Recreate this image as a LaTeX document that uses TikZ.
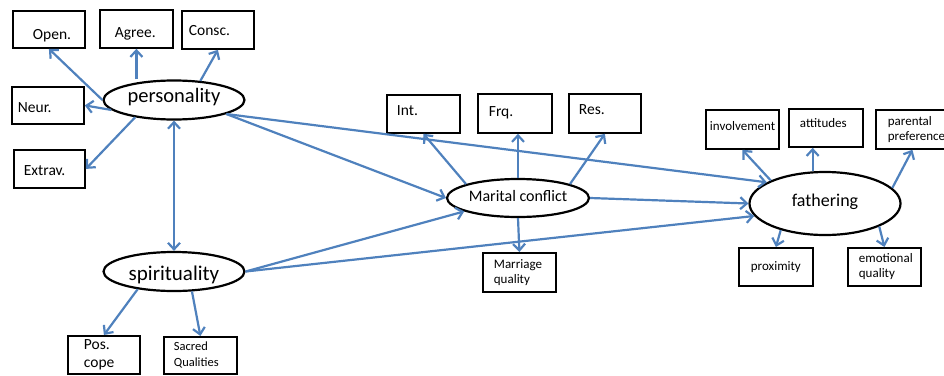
\documentclass[tikz,border=0pt]{standalone}
\usepackage{fontspec}
\setmainfont{Carlito}
\usetikzlibrary{arrows.meta,shapes.geometric}
\definecolor{arrblue}{HTML}{4F81BD}
\hyphenpenalty=10000
\exhyphenpenalty=10000
\begin{document}
\begin{tikzpicture}[x=1pt,y=-1pt,
  box/.style={draw=black, line width=1.8pt, anchor=north west, align=left, inner ysep=0pt},
  bigt/.style={font=\fontsize{15.5}{18.5}\selectfont},
  smallt/.style={font=\fontsize{13}{15}\selectfont},
  tinyt/.style={font=\fontsize{12.5}{16}\selectfont},
  latent/.style={draw=black, fill=white, ellipse, line width=2.2pt, inner sep=0pt, text depth=0pt},
  arr/.style={draw=arrblue, line width=2.2pt, -{Straight Barb[length=6.5pt,width=12pt]}},
  darr/.style={arr, {Straight Barb[length=6.5pt,width=12pt]}-{Straight Barb[length=6.5pt,width=12pt]}}
]
\useasboundingbox (0,0) rectangle (944,375);

% latent variables
\node[latent, minimum width=141, minimum height=39, text height=5.4pt, font=\fontsize{20.5}{24}\selectfont] (pers) at (174,100) {personality};
\node[latent, minimum width=141, minimum height=39, text height=17pt, font=\fontsize{21}{24}\selectfont] (spir) at (174,271.5) {spirituality};
\node[latent, minimum width=142, minimum height=38, text height=7.4pt, font=\fontsize{16}{18}\selectfont] (mc) at (518,198) {Marital conflict};
\node[latent, minimum width=151, minimum height=63, text height=6.4pt, font=\fontsize{18}{20}\selectfont] (fath) at (825,203.5) {fathering};

% personality indicators
\node[box, bigt, text width=32pt, inner xsep=20pt, minimum height=37, text height=20pt, text depth=0pt] (open) at (12,10) {Open.};
\node[box, bigt, text width=43pt, inner xsep=15pt, minimum height=38, text height=17pt, text depth=0pt] (agree) at (99,9) {Agree.};
\node[box, bigt, text width=58pt, inner xsep=7pt, minimum height=38, text height=12pt, text depth=0pt] (consc) at (181,10) {Consc.};
\node[box, bigt, text width=60pt, inner xsep=6pt, minimum height=37, text height=14pt, text depth=0pt] (neur) at (11,86) {Neur.};
\node[box, bigt, text width=51pt, inner xsep=10pt, minimum height=38, text height=14pt, text depth=0pt] (extrav) at (13,149) {Extrav.};

% spirituality indicators
\node[box, bigt, text width=40pt, inner xsep=16pt, minimum height=38] (pos) at (67,335) {Pos.\\cope};
\node[box, tinyt, text width=53pt, inner xsep=10pt, minimum height=37] (sq) at (163,336) {Sacred\\Qualities};

% marital conflict indicators
\node[box, bigt, text width=53pt, inner xsep=10pt, minimum height=38, text height=4pt, text depth=0pt] (int) at (386,94) {Int.};
\node[box, bigt, text width=52pt, inner xsep=11pt, minimum height=39, text height=7pt, text depth=0pt] (frq) at (477,93) {Frq.};
\node[box, bigt, text width=52pt, inner xsep=10pt, minimum height=39, text height=3pt, text depth=0pt] (res) at (568,93) {Res.};
\node[box, smallt, text width=51pt, inner xsep=11pt, minimum height=39] (mq) at (482,252) {Marriage\\quality};

% fathering indicators
\node[box, smallt, text width=65pt, inner xsep=4pt, minimum height=39, text height=3pt, text depth=0pt] (inv) at (705,109) {involvement};
\node[box, smallt, text width=52pt, inner xsep=11pt, minimum height=38, text height=0pt, text depth=0pt] (att) at (788,108) {attitudes};
\node[box, smallt, text width=49pt, inner xsep=12pt, minimum height=39] (pp) at (875,109) {parental\\preference};
\node[box, smallt, text width=50pt, inner xsep=12pt, minimum height=38, text height=8pt, text depth=0pt] (prox) at (738,247) {proximity};
\node[box, smallt, text width=51pt, inner xsep=11pt, minimum height=38] (eq) at (847,247) {emotional\\quality};

% connectors
\draw[arr] (pers.west) -- (open.south);
\draw[arr] (agree.south |- pers.north) -- (agree.south);
\draw[arr] (pers.36) -- (consc.south);
\draw[arr] (pers.189) -- (neur.east);
\draw[arr] (pers.204) -- (extrav.east);
\draw[darr] (pers.south) -- (spir.north);
\draw[arr] (pers.345) -- (fath.160);
\draw[arr] (pers.345) -- (mc.west);
\draw[arr] (spir.east) -- (mc.194);
\draw[arr] (spir.east) -- (fath.190);
\draw[arr] (mc.east) -- (fath.west);
\draw[arr] (mc.165) -- (int.south);
\draw[arr] (mc.north) -- (mc.north |- frq.south);
\draw[arr] (mc.15) -- (res.south);
\draw[arr] (mc.south) -- (mq.north);
\draw[arr] (fath.157) -- (inv.south);
\draw[arr] (fath.111) -- (fath.111 |- att.south);
\draw[arr] (fath.13) -- (pp.south);
\draw[arr] (fath.211) -- (prox.north);
\draw[arr] (fath.337) -- (eq.north);
\draw[arr] (spir.206) -- (pos.north);
\draw[arr] (spir.312) -- (sq.north);
\end{tikzpicture}
\end{document}
